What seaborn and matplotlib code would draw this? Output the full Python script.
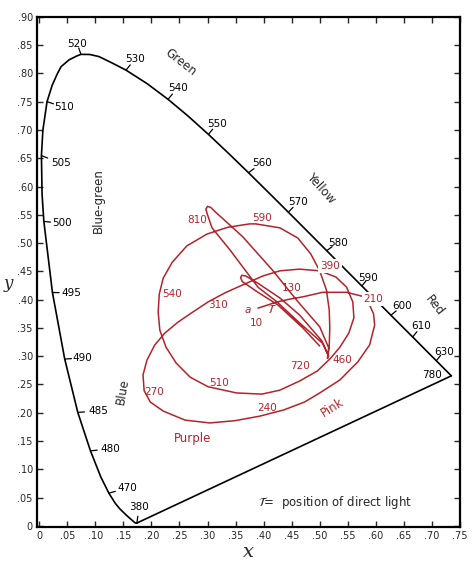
import matplotlib
matplotlib.use("Agg")
import matplotlib.pyplot as plt
import numpy as np
import pandas as pd
import seaborn as sns

sns.set_theme(style="white")
plt.rcParams["font.family"] = ["DejaVu Sans"]

RED = "#b3232b"

# spectral locus (CIE 1931 chromaticity)
WL = [380, 410, 420, 430, 440, 450, 460, 465, 470, 475, 480, 485, 490, 495,
      500, 502, 505, 507, 510, 512, 514, 515, 517, 519, 520, 522, 524, 525, 527,
      530, 535, 540, 545, 550, 555, 560, 565,
      570, 575, 580, 585, 590, 595, 600, 605, 610, 620, 630, 640, 650, 700, 780]
LOCUS_X = [0.1741, 0.1727, 0.1714, 0.1689, 0.1644, 0.1566, 0.1440, 0.1355, 0.1241,
           0.1096, 0.0913, 0.0687, 0.0454, 0.0235, 0.0082, 0.0050, 0.0039, 0.0065,
           0.0139, 0.0230, 0.0320, 0.0389, 0.0530, 0.0670, 0.0743, 0.0900, 0.1060,
           0.1142, 0.1300, 0.1547, 0.1929, 0.2296, 0.2658, 0.3016, 0.3373, 0.3731,
           0.4087, 0.4441, 0.4788, 0.5125, 0.5448, 0.5752, 0.6029, 0.6270, 0.6482,
           0.6658, 0.6915, 0.7079, 0.7190, 0.7260, 0.7347, 0.7347]
LOCUS_Y = [0.0050, 0.0048, 0.0051, 0.0069, 0.0109, 0.0177, 0.0297, 0.0399, 0.0578,
           0.0868, 0.1327, 0.2007, 0.2950, 0.4127, 0.5384, 0.5870, 0.6548, 0.7000,
           0.7502, 0.7790, 0.7990, 0.8120, 0.8240, 0.8310, 0.8338, 0.8336, 0.8300,
           0.8262, 0.8185, 0.8059, 0.7816, 0.7543, 0.7243, 0.6923, 0.6589, 0.6245,
           0.5896, 0.5547, 0.5202, 0.4866, 0.4544, 0.4242, 0.3965, 0.3725, 0.3514,
           0.3340, 0.3083, 0.2920, 0.2809, 0.2740, 0.2653, 0.2653]

# wavelength labels
WL_LABELS = [520, 530, 540, 550, 560, 570, 580, 590, 600, 610, 630, 780,
             510, 505, 500, 495, 490, 485, 480, 470, 380]
WL_LABEL_X = [0.068, 0.171, 0.247, 0.317, 0.397, 0.461, 0.532, 0.587, 0.646, 0.681, 0.721, 0.701,
              0.044, 0.039, 0.041, 0.057, 0.077, 0.106, 0.126, 0.157, 0.178]
WL_LABEL_Y = [0.852, 0.826, 0.775, 0.711, 0.642, 0.572, 0.501, 0.439, 0.388, 0.353, 0.308, 0.267,
              0.740, 0.641, 0.535, 0.412, 0.297, 0.203, 0.136, 0.067, 0.034]

# colour region names
REGIONS = ["Green", "Yellow", "Red", "Blue-green", "Blue"]
REGION_X = [0.253, 0.502, 0.705, 0.105, 0.148]
REGION_Y = [0.820, 0.597, 0.390, 0.576, 0.237]
REGION_ROT = [-38, -48, -52, 90, 80]

# colour path of the sample (red curve)
PATH_X = [0.390, 0.424, 0.447, 0.470, 0.505, 0.548, 0.580, 0.585,
          0.596, 0.598, 0.589, 0.568, 0.536, 0.500, 0.473, 0.436, 0.393, 0.349, 0.304,
          0.260, 0.221, 0.198, 0.187, 0.185, 0.192, 0.206, 0.224, 0.247, 0.269, 0.301,
          0.331, 0.358, 0.399, 0.429, 0.464, 0.500, 0.529, 0.548, 0.559, 0.561, 0.552,
          0.536, 0.520,
          0.496, 0.464, 0.429, 0.397, 0.352, 0.301, 0.269, 0.244, 0.226, 0.215, 0.212,
          0.214, 0.221, 0.237, 0.263, 0.299, 0.336, 0.375, 0.386, 0.429, 0.461, 0.484,
          0.500, 0.512, 0.517, 0.518, 0.517, 0.514,
          0.516, 0.500, 0.459, 0.416, 0.363, 0.331, 0.314, 0.306, 0.300, 0.297, 0.300,
          0.308, 0.340, 0.390, 0.424, 0.464, 0.505, 0.516,
          0.504, 0.464, 0.429, 0.390, 0.368, 0.361, 0.359, 0.362, 0.390, 0.425, 0.470, 0.500]
PATH_Y = [0.385, 0.396, 0.401, 0.405, 0.413, 0.413, 0.405, 0.399,
          0.375, 0.355, 0.320, 0.290, 0.258, 0.235, 0.219, 0.205, 0.194, 0.186, 0.182,
          0.187, 0.203, 0.219, 0.239, 0.267, 0.293, 0.320, 0.341, 0.360, 0.375, 0.396,
          0.412, 0.424, 0.442, 0.451, 0.454, 0.451, 0.440, 0.422, 0.396, 0.368, 0.341,
          0.316, 0.297,
          0.274, 0.256, 0.240, 0.233, 0.235, 0.246, 0.263, 0.288, 0.316, 0.346, 0.378,
          0.410, 0.438, 0.466, 0.495, 0.516, 0.528, 0.534, 0.534, 0.527, 0.509, 0.481,
          0.451, 0.417, 0.382, 0.350, 0.318, 0.296,
          0.315, 0.352, 0.399, 0.452, 0.511, 0.540, 0.555, 0.563, 0.565, 0.560, 0.550,
          0.527, 0.488, 0.422, 0.396, 0.359, 0.323, 0.300,
          0.327, 0.373, 0.403, 0.429, 0.442, 0.443, 0.439, 0.432, 0.413, 0.391, 0.350, 0.318]

# angle marks along the red path
ANGLES = ["810", "590", "540", "310", "130", "390", "210", "720", "460", "510", "270", "240", "10", "a"]
ANGLE_X = [0.281, 0.397, 0.237, 0.318, 0.450, 0.518, 0.596, 0.464, 0.541, 0.320, 0.205, 0.407, 0.388, 0.372]
ANGLE_Y = [0.541, 0.545, 0.410, 0.390, 0.420, 0.459, 0.401, 0.283, 0.293, 0.253, 0.237, 0.208, 0.359, 0.382]

XTICKS = [0, .05, .10, .15, .20, .25, .30, .35, .40, .45, .50, .55, .60, .65, .70, .75]
XTICK_LABELS = ["0", ".05", ".10", ".15", ".20", ".25", ".30", ".35", ".40", ".45",
                ".50", ".55", ".60", ".65", ".70", ".75"]
YTICKS = [0, .05, .10, .15, .20, .25, .30, .35, .40, .45, .50, .55, .60, .65, .70, .75, .80, .85, .90]
YTICK_LABELS = ["0", ".05", ".10", ".15", ".20", ".25", ".30", ".35", ".40", ".45",
                ".50", ".55", ".60", ".65", ".70", ".75", ".80", ".85", ".90"]

locus = pd.DataFrame({"wl": WL, "x": LOCUS_X, "y": LOCUS_Y})
path = pd.DataFrame({"x": PATH_X, "y": PATH_Y})

fig = plt.figure(figsize=(4.72, 5.68), dpi=100)
ax = fig.add_axes([0.0784, 0.0722, 0.896, 0.898])

# spectral locus + line of purples
sns.lineplot(data=locus, x="x", y="y", sort=False, estimator=None, color="black",
             linewidth=1.2, ax=ax)
ax.plot([LOCUS_X[-1], LOCUS_X[0]], [LOCUS_Y[-1], LOCUS_Y[0]], color="black", linewidth=1.2)

# wavelength ticks and labels
for wl, lx, ly in zip(WL_LABELS, WL_LABEL_X, WL_LABEL_Y):
    row = locus[locus["wl"] == wl].iloc[0]
    if wl != 780:
        d = np.array([lx - row["x"], ly - row["y"]])
        d = d / np.hypot(*d) * 0.012
        ax.plot([row["x"], row["x"] + d[0]], [row["y"], row["y"] + d[1]],
                color="black", linewidth=0.9)
    ax.text(lx, ly, str(wl), fontsize=7.5, ha="center", va="center", color="black")

for name, rx, ry, rot in zip(REGIONS, REGION_X, REGION_Y, REGION_ROT):
    ax.text(rx, ry, name, fontsize=8.5, rotation=rot, ha="center", va="center",
            rotation_mode="anchor")

# red path
sns.lineplot(data=path, x="x", y="y", sort=False, estimator=None, color=RED,
             linewidth=1.1, ax=ax)
for t, tx, ty in zip(ANGLES, ANGLE_X, ANGLE_Y):
    box = None
    if t in ("390", "210"):
        box = dict(facecolor="white", edgecolor="none", pad=1.5)
    ax.text(tx, ty, t, fontsize=7.5, color=RED, ha="center", va="center", bbox=box,
            fontstyle="italic" if t == "a" else "normal", zorder=5)

ax.text(0.416, 0.382, r"$\mathcal{T}$", fontsize=8.5, color=RED, ha="center", va="center")
ax.text(0.274, 0.155, "Purple", fontsize=8.5, color=RED, ha="center", va="center")
ax.text(0.523, 0.210, "Pink", fontsize=8.5, color=RED, ha="center", va="center", rotation=32)
ax.text(0.39, 0.041, r"$\mathcal{T}$=  position of direct light", fontsize=8.5,
        ha="left", va="center")

ax.set_xlim(-0.004, 0.75)
ax.set_ylim(-0.002, 0.90)
ax.set_xticks(XTICKS)
ax.set_xticklabels(XTICK_LABELS, fontsize=7)
ax.set_yticks(YTICKS)
ax.set_yticklabels(YTICK_LABELS, fontsize=7)
ax.tick_params(direction="in", length=4, width=1, top=True, right=True,
               bottom=True, left=True, pad=3)
for s in ax.spines.values():
    s.set_color("black")
    s.set_linewidth(1.6)
ax.set_xlabel("x", fontsize=14, fontstyle="italic", family="DejaVu Serif", labelpad=1)
ax.set_ylabel("y", fontsize=12, fontstyle="italic", family="DejaVu Serif", rotation=0,
              ha="center", va="center")
ax.yaxis.set_label_coords(-0.068, 0.478)
ax.grid(False)

fig.savefig("out.png", dpi=100)
